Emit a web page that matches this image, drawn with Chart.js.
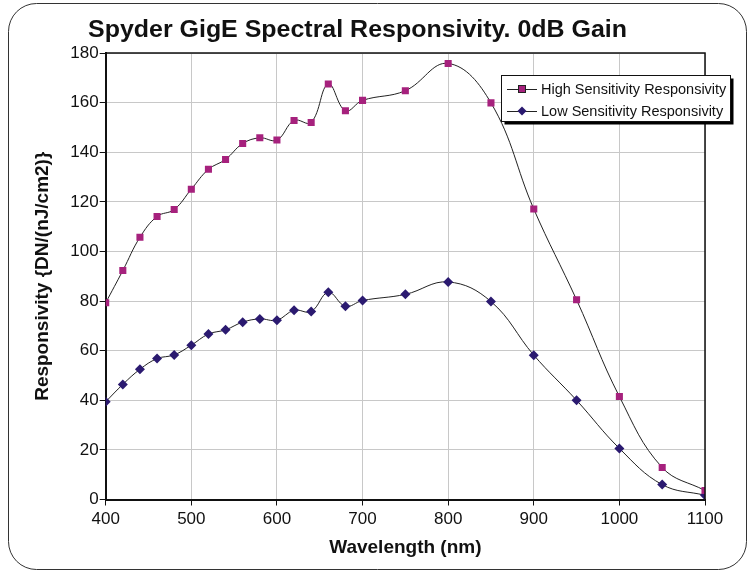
<!DOCTYPE html>
<html>
<head>
<meta charset="utf-8">
<script src="https://cdn.jsdelivr.net/npm/chart.js@4/dist/chart.umd.min.js"></script>
<style>
html,body{margin:0;padding:0;background:#fff;}
#wrap{position:absolute;left:0;top:0;width:753px;height:572px;}
</style>
</head>
<body>
<div id="wrap"><canvas id="c" width="753" height="572"></canvas></div>
<script>
const chartTitle = "Spyder GigE Spectral Responsivity. 0dB Gain";
const xTitle = "Wavelength (nm)";
const yTitle = "Responsivity {DN/(nJ/cm2)}";
const wavelengths = [400,420,440,460,480,500,520,540,560,580,600,620,640,660,680,700,750,800,850,900,950,1000,1050,1100];
const highSeriesName = "High Sensitivity Responsivity";
const lowSeriesName = "Low Sensitivity Responsivity";
const highValues = [79.3,92.3,105.7,114.1,116.9,125.1,133.1,137.1,143.5,145.8,144.9,152.8,152.0,167.5,156.7,160.9,164.8,175.8,159.9,117.1,80.5,41.5,12.9,3.6];
const lowValues  = [39.4,46.4,52.5,56.8,58.3,62.2,66.7,68.4,71.5,72.8,72.3,76.3,75.8,83.5,77.9,80.2,82.7,87.7,79.8,58.2,40.0,20.6,6.0,1.7];
const xTicks = [400,500,600,700,800,900,1000,1100];
const yTicks = [0,20,40,60,80,100,120,140,160,180];

const HIGH_COLOR = '#A6217D';
const LOW_COLOR = '#2B1A70';
const FONT = "'Liberation Sans', Arial, sans-serif";

const toPts = (xs, ys) => xs.map((x,i)=>({x:x,y:ys[i]}));

const decor = {
  id:'decor',
  beforeDraw(chart){
    const ctx = chart.ctx;
    ctx.save();
    ctx.fillStyle='#fff';
    ctx.fillRect(0,0,chart.width,chart.height);
    const x0=8.5,y0=3.5,x1=746.5,y1=569.5,r=28;
    ctx.beginPath();
    ctx.moveTo(x0+r,y0);
    ctx.lineTo(x1-r,y0);
    ctx.arcTo(x1,y0,x1,y0+r,r);
    ctx.lineTo(x1,y1-r);
    ctx.arcTo(x1,y1,x1-r,y1,r);
    ctx.lineTo(x0+r,y1);
    ctx.arcTo(x0,y1,x0,y1-r,r);
    ctx.lineTo(x0,y0+r);
    ctx.arcTo(x0,y0,x0+r,y0,r);
    ctx.closePath();
    ctx.strokeStyle='#333';
    ctx.lineWidth=1;
    ctx.stroke();
    ctx.font = "bold 23px " + FONT;
    ctx.fillStyle='#111';
    ctx.textBaseline='alphabetic';
    ctx.textAlign='center';
    const w = ctx.measureText(chartTitle).width;
    const s = Math.min(1.2, 539 / w);
    ctx.translate(357.5, 37);
    ctx.scale(s,1);
    ctx.fillText(chartTitle,0,0);
    ctx.restore();
  },
  afterDatasetsDraw(chart){
    const ctx = chart.ctx, a = chart.chartArea;
    ctx.save();
    ctx.strokeStyle='#111';
    ctx.lineWidth=1.5;
    ctx.beginPath();
    ctx.moveTo(a.left, a.top);
    ctx.lineTo(a.right, a.top);
    ctx.lineTo(a.right, a.bottom);
    ctx.stroke();
    ctx.restore();
  },
  afterDraw(chart){
    const ctx = chart.ctx;
    ctx.save();
    const bx=501.5, by=75.5, bw=229, bh=46;
    ctx.fillStyle='#000';
    ctx.fillRect(bx+3, by+3, bw, bh);
    ctx.fillStyle='#fff';
    ctx.fillRect(bx, by, bw, bh);
    ctx.strokeStyle='#111';
    ctx.lineWidth=1;
    ctx.strokeRect(bx, by, bw, bh);
    const rows = [
      {name:highSeriesName, color:HIGH_COLOR, style:'rect', y:89},
      {name:lowSeriesName, color:LOW_COLOR, style:'rectRot', y:111}
    ];
    ctx.font = "14.5px " + FONT;
    ctx.textBaseline='middle';
    ctx.textAlign='left';
    rows.forEach(r=>{
      ctx.strokeStyle='#222';
      ctx.lineWidth=1;
      ctx.beginPath();
      ctx.moveTo(507, r.y+0.5);
      ctx.lineTo(537, r.y+0.5);
      ctx.stroke();
      ctx.fillStyle=r.color;
      if(r.style==='rect'){
        ctx.fillRect(518.5, r.y-3.5, 7, 7);
        ctx.strokeStyle='#222';
        ctx.strokeRect(518.5, r.y-3.5, 7, 7);
      } else {
        ctx.beginPath();
        ctx.moveTo(522, r.y-4.5);
        ctx.lineTo(526.5, r.y);
        ctx.lineTo(522, r.y+4.5);
        ctx.lineTo(517.5, r.y);
        ctx.closePath();
        ctx.fill();
      }
      ctx.fillStyle='#111';
      ctx.fillText(r.name, 541, r.y+1);
    });
    ctx.restore();
  }
};

new Chart(document.getElementById('c'), {
  type:'line',
  data:{
    datasets:[
      {
        label: highSeriesName,
        data: toPts(wavelengths, highValues),
        borderColor:'#222',
        borderWidth:1,
        backgroundColor: HIGH_COLOR,
        pointBackgroundColor: HIGH_COLOR,
        pointBorderColor: HIGH_COLOR,
        pointBorderWidth:0,
        pointStyle:'rect',
        pointRadius:5,
        tension:0.4,
        fill:false
      },
      {
        label: lowSeriesName,
        data: toPts(wavelengths, lowValues),
        borderColor:'#222',
        borderWidth:1,
        backgroundColor: LOW_COLOR,
        pointBackgroundColor: LOW_COLOR,
        pointBorderColor: LOW_COLOR,
        pointBorderWidth:0,
        pointStyle:'rectRot',
        pointRadius:5,
        tension:0.4,
        fill:false
      }
    ]
  },
  options:{
    responsive:false,
    animation:false,
    devicePixelRatio:1,
    layout:{padding:{left:0, right:48, top:53, bottom:0}},
    plugins:{legend:{display:false}, title:{display:false}, tooltip:{enabled:false}},
    scales:{
      x:{
        type:'linear',
        min:400, max:1100,
        afterBuildTicks: s => { s.ticks = xTicks.map(v=>({value:v})); },
        afterFit: s => { s.height = 72.5; },
        grid:{color:'#c8c8c8', lineWidth:1, tickColor:'#111', tickLength:6, drawTicks:true},
        border:{color:'#111', width:2},
        ticks:{color:'#111', font:{family:FONT, size:17}, padding:4, maxRotation:0, callback: v => String(v)},
        title:{display:true, text:xTitle, color:'#111', font:{family:FONT, size:19, weight:'bold'}, padding:{top:0,bottom:13}}
      },
      y:{
        min:0, max:180,
        afterBuildTicks: s => { s.ticks = yTicks.map(v=>({value:v})); },
        afterFit: s => { s.width = 105.7; },
        grid:{color:'#c8c8c8', lineWidth:1, tickColor:'#111', tickLength:6, drawTicks:true},
        border:{color:'#111', width:2},
        ticks:{color:'#111', font:{family:FONT, size:17}, padding:1, callback: v => String(v)},
        title:{display:true, text:yTitle, color:'#111', font:{family:FONT, size:19, weight:'bold'}, padding:{top:31,bottom:0}}
      }
    }
  },
  plugins:[decor]
});
</script>
</body>
</html>
